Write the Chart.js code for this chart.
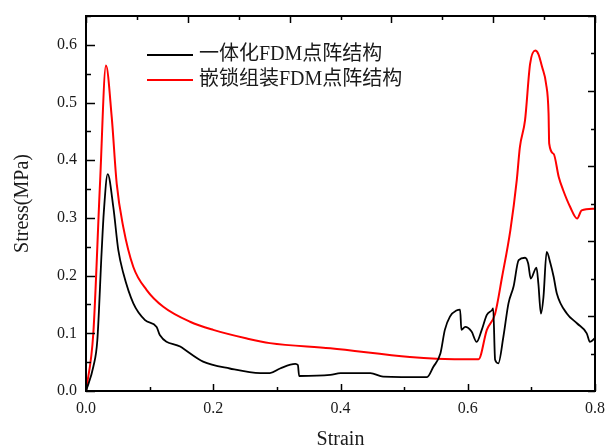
<!DOCTYPE html>
<html>
<head>
<meta charset="utf-8">
<script src="https://cdn.jsdelivr.net/npm/chart.js@4/dist/chart.umd.min.js"></script>
<style>
  html, body { margin: 0; padding: 0; background: #fff; }
  #wrap { width: 606px; height: 447px; position: relative; }
</style>
</head>
<body>
<div id="wrap"><canvas id="c" width="606" height="447"></canvas></div>
<script>
// ---- data ----
const seriesNames = ["一体化FDM点阵结构", "嵌锁组装FDM点阵结构"];
const xTickValues = [0, 0.2, 0.4, 0.6, 0.8];
const yTickValues = [0, 0.1, 0.2, 0.3, 0.4, 0.5, 0.6];

const blackX = [0, 0.0115, 0.0178, 0.0247, 0.028, 0.0341, 0.0429, 0.0508, 0.0587, 0.0744, 0.0928, 0.111, 0.116, 0.148, 0.184, 0.226, 0.274, 0.289, 0.305, 0.329, 0.333, 0.335, 0.384, 0.40, 0.447, 0.467, 0.536, 0.546, 0.557, 0.564, 0.572, 0.583, 0.588, 0.590, 0.596, 0.606, 0.614, 0.622, 0.630, 0.638, 0.640, 0.643, 0.648, 0.656, 0.664, 0.672, 0.680, 0.690, 0.695, 0.699, 0.708, 0.711, 0.715, 0.719, 0.724, 0.730, 0.735, 0.740, 0.756, 0.772, 0.787, 0.792, 0.800];
const blackY = [0, 0.042, 0.088, 0.244, 0.31, 0.376, 0.319, 0.244, 0.204, 0.152, 0.123, 0.111, 0.097, 0.077, 0.051, 0.039, 0.031, 0.031, 0.039, 0.047, 0.045, 0.026, 0.028, 0.031, 0.031, 0.025, 0.024, 0.042, 0.065, 0.106, 0.129, 0.140, 0.141, 0.106, 0.111, 0.103, 0.085, 0.106, 0.132, 0.140, 0.143, 0.054, 0.048, 0.094, 0.152, 0.181, 0.227, 0.231, 0.221, 0.195, 0.214, 0.186, 0.134, 0.163, 0.241, 0.221, 0.198, 0.169, 0.134, 0.117, 0.100, 0.085, 0.092];

const redX = [0, 0.0115, 0.022, 0.0314, 0.0404, 0.0483, 0.0586, 0.0744, 0.0954, 0.1215, 0.1635, 0.200, 0.253, 0.289, 0.384, 0.509, 0.551, 0.617, 0.630, 0.643, 0.654, 0.667, 0.677, 0.682, 0.690, 0.698, 0.706, 0.711, 0.717, 0.723, 0.727, 0.728, 0.735, 0.743, 0.750, 0.761, 0.772, 0.779, 0.800];
const redY = [0, 0.100, 0.359, 0.564, 0.475, 0.359, 0.284, 0.215, 0.175, 0.146, 0.120, 0.106, 0.091, 0.083, 0.074, 0.059, 0.056, 0.055, 0.106, 0.134, 0.198, 0.279, 0.365, 0.423, 0.469, 0.567, 0.590, 0.584, 0.561, 0.533, 0.481, 0.429, 0.411, 0.371, 0.348, 0.319, 0.299, 0.313, 0.316];

const seriesColors = ["#000000", "#ff0000"];

function pts(xs, ys) { return xs.map((x, i) => ({ x: x, y: ys[i] })); }

const SERIF = '"Liberation Serif", "Times New Roman", "Noto Sans CJK SC", serif';
const LEGEND_FONT = '20px "Liberation Serif", "Noto Sans CJK SC", serif';
const TEXT = '#1a1a1a';

// frame, inward ticks and legend
const framePlugin = {
  id: 'frame',
  afterDraw(chart) {
    const ctx = chart.ctx;
    const a = chart.chartArea;
    const sx = chart.scales.x, sy = chart.scales.y, sx2 = chart.scales.x2, sy2 = chart.scales.y2;
    ctx.save();
    ctx.strokeStyle = '#000';
    ctx.lineWidth = 1.5;
    for (let k = 0; k <= 8; k++) {
      const px = Math.round(sx.getPixelForValue(k / 10)) + 0.5;
      const len = (k % 2 === 0) ? 7 : 4;
      ctx.beginPath(); ctx.moveTo(px, a.bottom); ctx.lineTo(px, a.bottom - len); ctx.stroke();
    }
    for (let k = 0; k <= 13; k++) {
      const py = Math.round(sy.getPixelForValue(k * 0.05)) + 0.5;
      const len = (k % 2 === 0) ? 9 : 5;
      ctx.beginPath(); ctx.moveTo(a.left, py); ctx.lineTo(a.left + len, py); ctx.stroke();
    }
    for (let k = 0; k <= 10; k++) {
      const px = Math.round(sx2.getPixelForValue(k / 10)) + 0.5;
      const len = (k % 2 === 0) ? 7 : 4;
      ctx.beginPath(); ctx.moveTo(px, a.top); ctx.lineTo(px, a.top + len); ctx.stroke();
    }
    for (let k = 0; k <= 10; k++) {
      const py = Math.round(sy2.getPixelForValue(k / 10)) + 0.5;
      const len = (k % 2 === 0) ? 7 : 4;
      ctx.beginPath(); ctx.moveTo(a.right, py); ctx.lineTo(a.right - len, py); ctx.stroke();
    }
    ctx.lineWidth = 2;
    ctx.strokeRect(a.left, a.top, a.right - a.left, a.bottom - a.top);

    const lx0 = 147, lx1 = 193, ly = [55, 80];
    chart.data.datasets.forEach((ds, i) => {
      ctx.strokeStyle = ds.borderColor;
      ctx.lineWidth = 2;
      ctx.beginPath(); ctx.moveTo(lx0, ly[i]); ctx.lineTo(lx1, ly[i]); ctx.stroke();
      ctx.fillStyle = TEXT;
      ctx.font = LEGEND_FONT;
      ctx.textBaseline = 'middle';
      ctx.textAlign = 'left';
      ctx.fillText(ds.label, 199, ly[i]);
    });
    ctx.restore();
  }
};

new Chart(document.getElementById('c'), {
  type: 'scatter',
  data: {
    datasets: [
      { label: seriesNames[0], data: pts(blackX, blackY), borderColor: seriesColors[0], backgroundColor: seriesColors[0],
        showLine: true, pointRadius: 0, borderWidth: 1.8, cubicInterpolationMode: 'monotone' },
      { label: seriesNames[1], data: pts(redX, redY), borderColor: seriesColors[1], backgroundColor: seriesColors[1],
        showLine: true, pointRadius: 0, borderWidth: 2, cubicInterpolationMode: 'monotone' }
    ]
  },
  options: {
    responsive: false,
    animation: false,
    devicePixelRatio: 1,
    layout: { padding: { left: 0, top: 16, right: 11, bottom: 0 } },
    plugins: { legend: { display: false }, tooltip: { enabled: false } },
    scales: {
      x: {
        type: 'linear', position: 'bottom', min: 0, max: 0.8,
        afterBuildTicks: s => { s.ticks = xTickValues.map(v => ({ value: v })); },
        afterFit: s => { s.height = 56; s.paddingLeft = 0; s.paddingRight = 0; },
        grid: { display: false, tickLength: 0 },
        border: { display: false },
        ticks: { color: TEXT, font: { family: SERIF, size: 16 }, padding: 8,
                 callback: v => Number(v).toFixed(1), maxRotation: 0, autoSkip: false },
        title: { display: true, text: 'Strain', color: TEXT, font: { family: SERIF, size: 20, lineHeight: 0.7 },
                 padding: { top: 0, bottom: 0 } }
      },
      y: {
        type: 'linear', position: 'left', min: 0, max: 0.65,
        afterBuildTicks: s => { s.ticks = yTickValues.map(v => ({ value: v })); },
        afterFit: s => { s.width = 86; s.paddingTop = 0; s.paddingBottom = 0; },
        grid: { display: false, tickLength: 0 },
        border: { display: false },
        ticks: { color: TEXT, font: { family: SERIF, size: 16 }, padding: 9,
                 callback: v => Number(v).toFixed(1), autoSkip: false },
        title: { display: true, text: 'Stress(MPa)', color: TEXT, font: { family: SERIF, size: 20, lineHeight: 1 },
                 padding: { top: 13, bottom: 0 } }
      },
      x2: { type: 'linear', position: 'top', min: 0, max: 1, display: false },
      y2: { type: 'linear', position: 'right', min: 0, max: 1, display: false }
    }
  },
  plugins: [framePlugin]
});
</script>
</body>
</html>
